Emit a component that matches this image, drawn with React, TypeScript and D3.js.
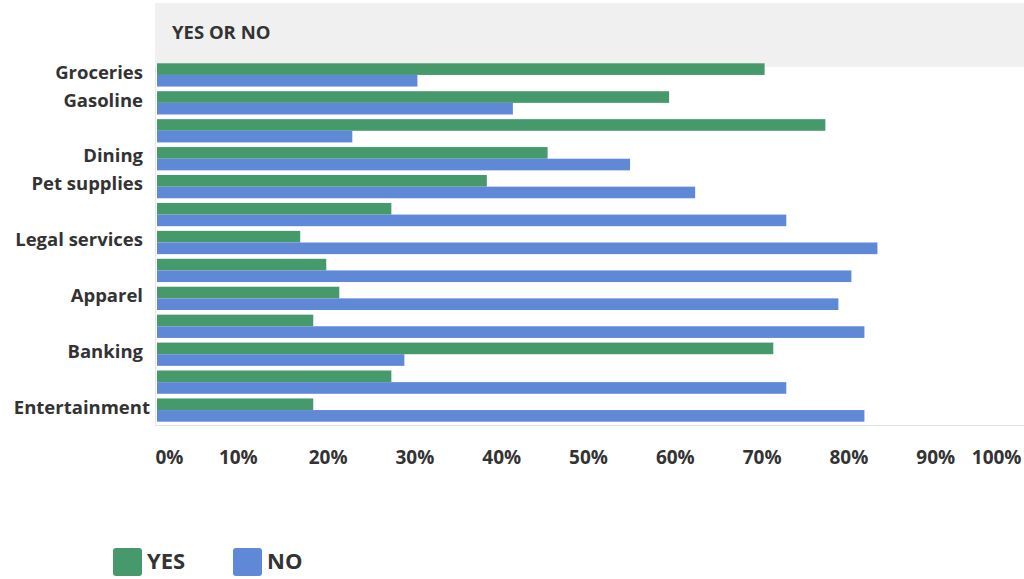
import { useEffect, useRef } from "react";
import * as d3 from "d3";

// data (percent of respondents)
const categories = [
  "Groceries",
  "Gasoline",
  "",
  "Dining",
  "Pet supplies",
  "",
  "Legal services",
  "",
  "Apparel",
  "",
  "Banking",
  "",
  "Entertainment",
];
const yesValues = [70, 59, 77, 45, 38, 27, 16.5, 19.5, 21, 18, 71, 27, 18];
const noValues = [30, 41, 22.5, 54.5, 62, 72.5, 83, 80, 78.5, 81.5, 28.5, 72.5, 81.5];
const xTicks = [0, 10, 20, 30, 40, 50, 60, 70, 80, 90, 100];
const seriesNames = ["YES", "NO"];
const seriesColors = ["#46996a", "#5f88d6"];

const width = 1024;
const height = 579;
const font = "'Open Sans', 'Noto Sans', sans-serif";

export default function App() {
  const ref = useRef(null);

  useEffect(() => {
    draw();
  });

  function draw() {
    const svg = d3.select(ref.current);
    svg.selectAll("*").remove();

    const left = 157;
    const right = 1025;

    // header band
    svg
      .append("rect")
      .attr("x", 155)
      .attr("y", 3)
      .attr("width", width - 155)
      .attr("height", 64)
      .attr("fill", "#f0f0f0");
    svg
      .append("text")
      .attr("x", 172)
      .attr("y", 39)
      .attr("font-family", font)
      .attr("font-weight", 700)
      .attr("font-size", 18.5)
      .attr("fill", "#333")
      .text("YES OR NO");

    const x = d3.scaleLinear().domain([0, 100]).range([left, right]);
    const y = d3
      .scaleBand()
      .domain(categories.map((c, i) => i + ""))
      .range([63.3, 421.7])
      .paddingInner(0.167)
      .paddingOuter(0);
    const sub = d3
      .scaleBand()
      .domain(seriesNames)
      .range([0, y.bandwidth()]);

    // frame lines
    svg
      .append("line")
      .attr("x1", 155.5)
      .attr("x2", 155.5)
      .attr("y1", 67)
      .attr("y2", 426)
      .attr("stroke", "#e4e6ea");
    svg
      .append("line")
      .attr("x1", 155)
      .attr("x2", width)
      .attr("y1", 425.5)
      .attr("y2", 425.5)
      .attr("stroke", "#dfe3ea");

    const rows = categories.map((c, i) => ({
      key: i + "",
      label: c,
      values: [yesValues[i], noValues[i]],
    }));

    const row = svg
      .selectAll("g.row")
      .data(rows)
      .enter()
      .append("g")
      .attr("class", "row")
      .attr("transform", (d) => "translate(0," + y(d.key) + ")");

    row
      .selectAll("rect")
      .data((d) => d.values)
      .enter()
      .append("rect")
      .attr("x", x(0))
      .attr("y", (d, i) => sub(seriesNames[i])!)
      .attr("width", (d) => x(d) - x(0))
      .attr("height", sub.bandwidth())
      .attr("fill", (d, i) => seriesColors[i]);

    row
      .append("text")
      .attr("x", (d) => (d.label === "Entertainment" ? 150 : 143))
      .attr("y", y.bandwidth() / 2)
      .attr("dy", "0.2em")
      .attr("text-anchor", "end")
      .attr("font-family", font)
      .attr("font-weight", 700)
      .attr("font-size", 18.5)
      .attr("fill", "#333")
      .text((d) => d.label);

    // x axis labels
    const xAxis = d3
      .axisBottom(x)
      .tickValues(xTicks)
      .tickSize(0)
      .tickPadding(0)
      .tickFormat((d) => d + "%");
    const ax = svg
      .append("g")
      .attr("transform", "translate(0,464)")
      .call(xAxis);
    ax.select(".domain").remove();
    ax.selectAll("text")
      .attr("dy", 0)
      .attr("font-family", font)
      .attr("font-weight", 700)
      .attr("font-size", 19)
      .attr("fill", "#333")
      .attr("text-anchor", (d: any) =>
        d === 0 ? "start" : d === 100 ? "end" : "middle"
      )
      .attr("dx", (d: any) => (d === 0 ? -2 : d === 100 ? -4 : d === 10 ? -6 : -3));

    // legend
    const legendX = [113, 233];
    const legend = svg
      .selectAll("g.legend")
      .data(seriesNames)
      .enter()
      .append("g")
      .attr("class", "legend")
      .attr("transform", (d, i) => "translate(" + legendX[i] + ",548)");
    legend
      .append("rect")
      .attr("width", 29)
      .attr("height", 28)
      .attr("rx", 3)
      .attr("fill", (d, i) => seriesColors[i]);
    legend
      .append("text")
      .attr("x", 34)
      .attr("y", 21)
      .attr("font-family", font)
      .attr("font-weight", 700)
      .attr("font-size", 22)
      .attr("fill", "#333")
      .text((d) => d);
  }

  return (
    <svg
      ref={ref}
      width={width}
      height={height}
      style={{ position: "absolute", left: 0, top: 0, background: "#fff" }}
    ></svg>
  );
}
